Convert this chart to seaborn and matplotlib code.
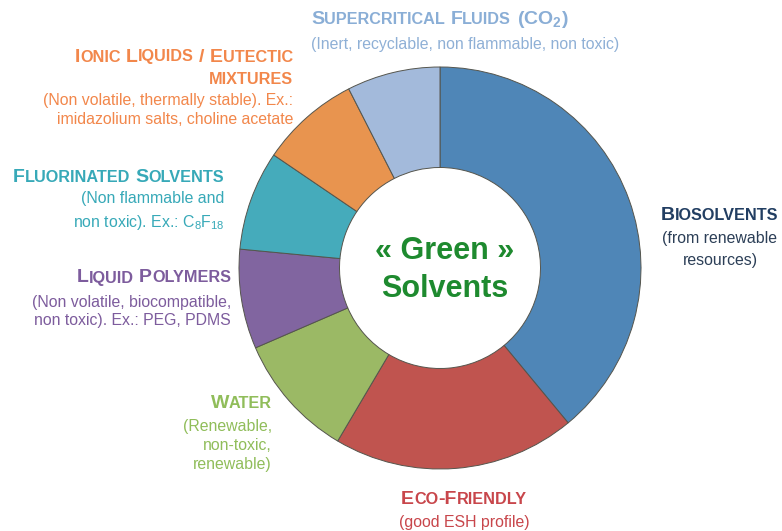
import matplotlib
matplotlib.use("Agg")
import matplotlib.pyplot as plt
import seaborn as sns
from matplotlib.offsetbox import TextArea, HPacker, DrawingArea, AnnotationBbox

sns.set_theme(style="white")
plt.rcParams["font.family"] = ["Liberation Sans", "DejaVu Sans"]
plt.rcParams["mathtext.fontset"] = "custom"
plt.rcParams["mathtext.rm"] = "Liberation Sans"
plt.rcParams["mathtext.bf"] = "Liberation Sans:bold"
plt.rcParams["mathtext.it"] = "Liberation Sans:italic"

# ---- data -------------------------------------------------------------
categories = ["Biosolvents", "Eco-Friendly", "Water", "Liquid Polymers",
              "Fluorinated Solvents", "Ionic Liquids / Eutectic mixtures",
              "Supercritical Fluids (CO2)"]
shares = [39, 19.5, 10, 8, 8, 8, 7.5]

titles = [["Biosolvents"],
          ["Eco-Friendly"],
          ["Water"],
          ["Liquid Polymers"],
          ["Fluorinated Solvents"],
          ["Ionic Liquids / Eutectic", "mixtures"],
          ["Supercritical Fluids (CO$_\\mathbf{2}$)"]]
subtitles = [["(from renewable", "resources)"],
             ["(good ESH profile)"],
             ["(Renewable,", "non-toxic,", "renewable)"],
             ["(Non volatile, biocompatible,", "non toxic). Ex.: PEG, PDMS"],
             ["(Non flammable and", "non toxic). Ex.: C$_8$F$_{18}$"],
             ["(Non volatile, thermally stable). Ex.:",
              "imidazolium salts, choline acetate"],
             ["(Inert, recyclable, non flammable, non toxic)"]]
center_label = ["« Green »", "Solvents"]

# ---- styling ----------------------------------------------------------
wedge_colors = ["#4f86b7", "#c0544f", "#9bb965", "#8165a0",
                "#45abbb", "#e8944f", "#a3badb"]
title_colors = ["#223e62", "#c8464b", "#90bd5a", "#7d5c9d",
                "#37a9b8", "#f2874b", "#8aaed6"]
sub_colors = ["#2c3f57", "#c8464b", "#90bd5a", "#7d5c9d",
              "#37a9b8", "#f2874b", "#8fb0d6"]
green = "#1e8a2f"

W, H = 782, 531
# label layout: (anchor x, horizontal alignment, title line y's, subtitle line y's)
layout = [
    (720, "center", [215], [238, 261]),
    (464, "center", [500], [522]),
    (272, "right", [404], [426, 446, 464]),
    (231, "right", [278], [302, 320]),
    (224, "right", [177], [199, 222]),
    (293, "right", [57, 80], [101, 119]),
    (311, "left", [20], [44]),
]

fig = plt.figure(figsize=(W / 100, H / 100), dpi=100)
ax = fig.add_axes([0, 0, 1, 1])

cx, cy, R = 440, H - 268, 201
ax.pie(shares, colors=wedge_colors, startangle=90, counterclock=False,
       center=(cx, cy), radius=R,
       wedgeprops=dict(width=R * 0.5, edgecolor="#55554d", linewidth=0.7))
ax.set_xlim(0, W)
ax.set_ylim(0, H)
ax.set_aspect("equal")
ax.axis("off")

BIG, SMALL, SUB = 14.0, 11.7, 11.4


def smallcaps(text, color):
    """Bold small-caps line: lowercase letters become smaller capitals."""
    children = []
    words = text.split(" ")
    for wi, word in enumerate(words):
        if wi > 0:
            children.append(DrawingArea(0.28 * BIG, 1))
        if "$" in word:
            children.append(TextArea(word, textprops=dict(
                fontsize=BIG, fontweight="bold", color=color)))
            continue
        runs, cur, cur_small = [], "", None
        for ch in word:
            sm = ch.islower()
            if cur and sm != cur_small:
                runs.append((cur, cur_small))
                cur = ""
            cur += ch
            cur_small = sm
        if cur:
            runs.append((cur, cur_small))
        for t, sm in runs:
            children.append(TextArea(t.upper() if sm else t, textprops=dict(
                fontsize=SMALL if sm else BIG, fontweight="bold", color=color)))
    return HPacker(children=children, pad=0, sep=0, align="baseline")


bx_map = {"left": 0.0, "center": 0.5, "right": 1.0}
for i in range(len(categories)):
    x, ha, tys, sys_ = layout[i]
    for line, y in zip(titles[i], tys):
        box = smallcaps(line, title_colors[i])
        ab = AnnotationBbox(box, (x, H - y), xycoords="data",
                            box_alignment=(bx_map[ha], 0.5),
                            frameon=False, pad=0)
        ax.add_artist(ab)
    for line, y in zip(subtitles[i], sys_):
        ax.text(x, H - y, line, ha=ha, va="center", fontsize=SUB,
                color=sub_colors[i])

ax.text(445, H - 251, center_label[0], ha="center", va="center",
        fontsize=22, fontweight="bold", color=green)
ax.text(445, H - 289, center_label[1], ha="center", va="center",
        fontsize=22, fontweight="bold", color=green)

fig.savefig("out.png", dpi=100, facecolor="white")
